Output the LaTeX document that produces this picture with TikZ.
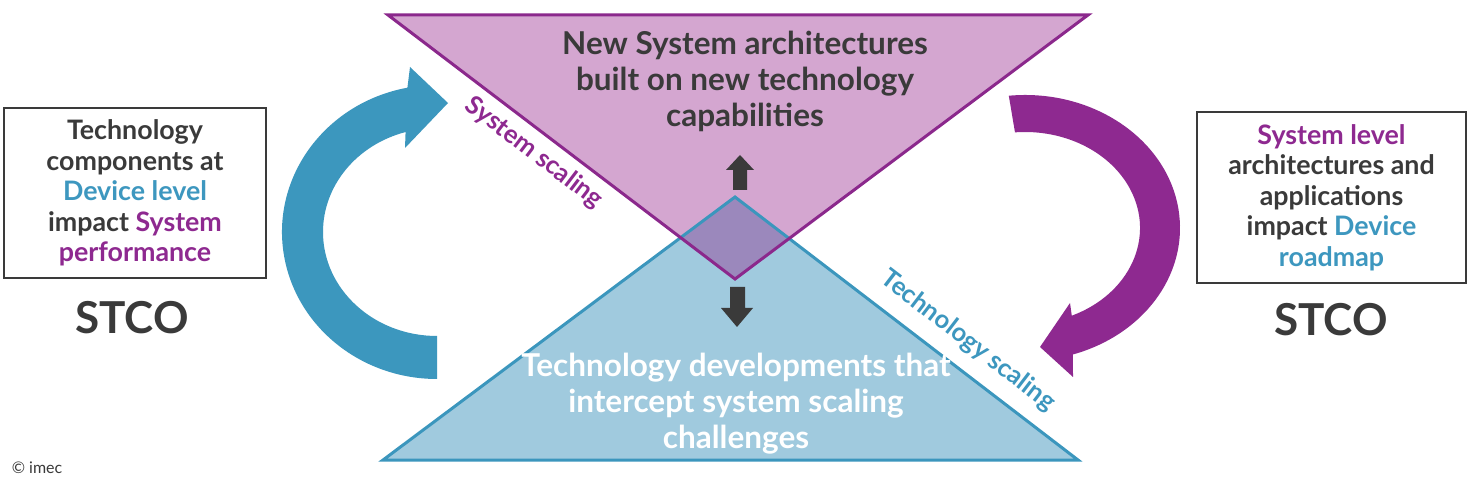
\documentclass[tikz,border=0pt]{standalone}
\usepackage{fontspec}
\setmainfont{Lato}
\definecolor{pfill}{RGB}{212,166,208}
\definecolor{pline}{RGB}{139,40,140}
\definecolor{bfill}{RGB}{160,202,222}
\definecolor{bline}{RGB}{59,150,189}
\definecolor{mixfill}{RGB}{155,136,188}
\definecolor{barrow}{RGB}{60,151,190}
\definecolor{parrow}{RGB}{142,41,144}
\definecolor{dark}{RGB}{58,58,58}
\definecolor{tpurple}{RGB}{142,41,144}
\definecolor{tblue}{RGB}{61,151,191}
\tikzset{
  boxnode/.style={draw=dark, line width=2.5pt, align=center, inner sep=0pt, text=dark,
    font=\fontsize{26.8}{30.5}\selectfont\bfseries},
  stco/.style={text=dark, font=\fontsize{44}{44}\selectfont\bfseries},
  tritext/.style={align=center, font=\fontsize{31.5}{36}\selectfont\bfseries},
  edgelabel/.style={font=\fontsize{25.5}{25.5}\selectfont\bfseries},
  darrow/.style={fill=dark},
}
\begin{document}
\begin{tikzpicture}[x=1pt,y=1pt]
\useasboundingbox (0,0) rectangle (1474,479);
\fill[white] (0,0) rectangle (1474,479);
% triangles
\fill[pfill] (388,464) -- (1088,464) -- (735,200) -- cycle;
\fill[bfill] (383,19) -- (1078,19) -- (735,282) -- cycle;
\begin{scope}
  \clip (388,464) -- (1088,464) -- (735,200) -- cycle;
  \fill[mixfill] (383,19) -- (1078,19) -- (735,282) -- cycle;
\end{scope}
\draw[bline, line width=3pt, line join=miter] (383,19) -- (1078,19) -- (735,282) -- cycle;
\draw[pline, line width=3pt, line join=miter] (388,464) -- (1088,464) -- (735,200) -- cycle;
% texts in triangles
\node[tritext, text=dark] (sys) at (745,398) {New System architectures\\built on new technology\\capabilities};
\node[tritext, text=white] (tech) at (736,75) {Technology developments that\\intercept system scaling\\challenges};
% small dark arrows
\fill[darrow] (733,289) -- (747,289) -- (747,309) -- (754,309) -- (740,324) -- (726,309) -- (733,309) -- cycle;
\fill[darrow] (730,192) -- (745,192) -- (745,171) -- (753,171) -- (737,152) -- (721,171) -- (730,171) -- cycle;
% edge labels
\node[edgelabel, text=tpurple, rotate=-37.3] (sl) at (534,326) {System scaling};
\node[edgelabel, text=tblue, rotate=-37.5] (tl) at (968,138) {Technology scaling};
% left curved arrow
\fill[barrow] ({437+155*cos(101)},{247+147*sin(101)})
  arc[start angle=101, end angle=270, x radius=155, y radius=147]
  -- (437,{247-104})
  arc[start angle=270, end angle=106, x radius=114, y radius=104]
  -- (405,331) -- (448,376) -- (410,412) -- cycle;
% right curved arrow
\fill[parrow] ({1025+155*cos(96)},{251+133*sin(96)})
  arc[start angle=96, end angle=-72, x radius=155, y radius=133]
  -- (1073,102) -- (1040,132) -- (1070,176)
  -- ({1025+115*cos(-66)},{251+96*sin(-66)})
  arc[start angle=-66, end angle=95, x radius=115, y radius=96]
  -- cycle;
% boxes
\node[boxnode, minimum width=262pt, minimum height=170pt] (lbox) at (135,286)
  {Technology\\components at\\\textcolor{tblue}{Device level}\\impact \textcolor{tpurple}{System}\\\textcolor{tpurple}{performance}};
\node[boxnode, minimum width=269pt, minimum height=171pt] (rbox) at (1331.5,281.5)
  {\textcolor{tpurple}{System level}\\architectures and\\applications\\impact \textcolor{tblue}{Device}\\\textcolor{tblue}{roadmap}};
\node[stco] (lstco) at (132,161) {STCO};
\node[stco] (rstco) at (1331,159) {STCO};
\node[text=dark, font=\fontsize{16}{16}\selectfont] (copy) at (37,11) {© imec};
\end{tikzpicture}
\end{document}
